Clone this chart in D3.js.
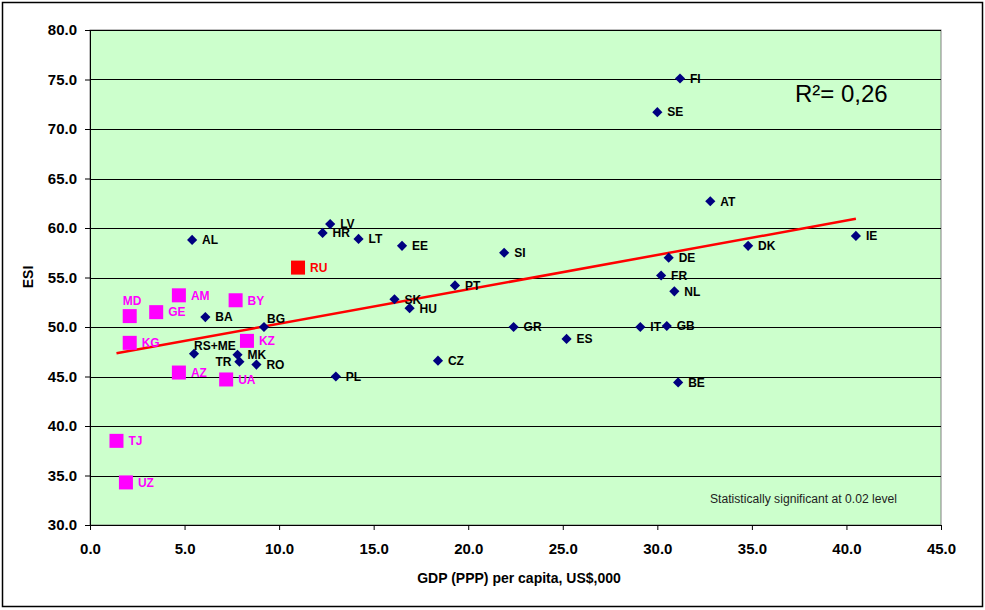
<!DOCTYPE html>
<html lang="en">
<head>
  <meta charset="UTF-8">
  <title>ESI vs GDP per capita</title>
  <script src="https://d3js.org/d3.v7.min.js"></script>
  <style>
    body {
      margin: 0;
      font-family: Arial, "Liberation Sans", sans-serif;
    }
    .tick text {
      font-size: 15px;
      font-weight: bold;
      fill: #000;
    }
    .lbl {
      font-size: 12px;
      font-weight: bold;
    }
  </style>
</head>
<body>
  <svg width="985" height="610"></svg>
  <script>
    // countries, GDP (PPP) per capita in US$,000, ESI score, group
    const countries = ["FI", "SE", "AT", "DK", "IE", "DE", "FR", "NL", "IT", "GB", "BE", "ES", "GR", "CZ", "PT",
      "SI", "EE", "LT", "LV", "HR", "SK", "HU", "PL", "AL", "BA", "BG", "RS+ME", "MK", "TR", "RO",
      "MD", "AM", "GE", "BY", "KG", "KZ", "AZ", "UA", "TJ", "UZ", "RU"];
    const gdp = [31.2, 30.0, 32.8, 34.8, 40.5, 30.6, 30.2, 30.9, 29.1, 30.5, 31.1, 25.2, 22.4, 18.4, 19.3,
      21.9, 16.5, 14.2, 12.7, 12.3, 16.1, 16.9, 13.0, 5.4, 6.1, 9.2, 5.5, 7.8, 7.9, 8.8,
      2.1, 4.7, 3.5, 7.7, 2.1, 8.3, 4.7, 7.2, 1.4, 1.9, 11.0];
    const esi = [75.1, 71.7, 62.7, 58.2, 59.2, 57.0, 55.2, 53.6, 50.0, 50.1, 44.4, 48.8, 50.0, 46.6, 54.2,
      57.5, 58.2, 58.9, 60.4, 59.5, 52.8, 51.9, 45.0, 58.8, 51.0, 50.0, 47.3, 47.2, 46.5, 46.2,
      51.1, 53.2, 51.5, 52.7, 48.4, 48.6, 45.4, 44.7, 38.5, 34.3, 56.0];
    const groups = ["eu", "eu", "eu", "eu", "eu", "eu", "eu", "eu", "eu", "eu", "eu", "eu", "eu", "eu", "eu",
      "eu", "eu", "eu", "eu", "eu", "eu", "eu", "eu", "eu", "eu", "eu", "eu", "eu", "eu", "eu",
      "cis", "cis", "cis", "cis", "cis", "cis", "cis", "cis", "cis", "cis", "ru"];
    const xTicks = [0, 5, 10, 15, 20, 25, 30, 35, 40, 45];
    const yTicks = [30, 35, 40, 45, 50, 55, 60, 65, 70, 75, 80];
    const r2Text = "R²= 0,26";
    const noteText = "Statistically significant at 0.02 level";

    const data = countries.map((c, i) => ({ name: c, x: gdp[i], y: esi[i], group: groups[i] }));

    const color = { eu: "#000080", cis: "#FF00FF", ru: "#FF0000" };

    // a few labels sit away from the default spot to the right
    const labelShift = {
      "MD": { dx: -7, dy: -15, anchor: "start" },
      "RS+ME": { dx: 0, dy: -8, anchor: "start" },
      "TR": { dx: -8, dy: 0, anchor: "end" },
      "BG": { dx: 3, dy: -8, anchor: "start" }
    };

    const svg = d3.select("svg");
    const margin = { top: 30, right: 44, bottom: 85, left: 90 };
    const width = +svg.attr("width") - margin.left - margin.right;
    const height = +svg.attr("height") - margin.top - margin.bottom;

    svg.append("rect")
      .attr("x", 2.5).attr("y", 2.5)
      .attr("width", 980).attr("height", 604)
      .attr("fill", "#fff")
      .attr("stroke", "#000")
      .attr("stroke-width", 1.5);

    const x = d3.scaleLinear().domain([0, 45]).range([0, width]);
    const y = d3.scaleLinear().domain([30, 80]).range([height, 0]);

    const g = svg.append("g")
      .attr("transform", `translate(${margin.left},${margin.top})`);

    g.append("rect")
      .attr("width", width)
      .attr("height", height)
      .attr("fill", "#CCFFCC")
      .attr("stroke", "#808080");

    g.append("g")
      .selectAll("line")
      .data(yTicks)
      .join("line")
      .attr("x1", 0)
      .attr("x2", width)
      .attr("y1", d => Math.round(y(d)) + 0.5)
      .attr("y2", d => Math.round(y(d)) + 0.5)
      .attr("stroke", "#000");

    const xAxis = g.append("g")
      .attr("transform", `translate(0,${height})`)
      .call(d3.axisBottom(x).tickValues(xTicks).tickFormat(d3.format(".1f"))
        .tickSize(5).tickSizeOuter(0).tickPadding(13));
    xAxis.select(".domain").attr("stroke", "#000");

    const yAxis = g.append("g")
      .call(d3.axisLeft(y).tickValues(yTicks).tickFormat(d3.format(".1f"))
        .tickSize(5).tickSizeOuter(0).tickPadding(8));
    yAxis.select(".domain").attr("stroke", "#000");

    // least squares trend line over the data range
    const mx = d3.mean(data, d => d.x);
    const my = d3.mean(data, d => d.y);
    const slope = d3.sum(data, d => (d.x - mx) * (d.y - my)) / d3.sum(data, d => (d.x - mx) ** 2);
    const icpt = my - slope * mx;
    const [x0, x1] = d3.extent(data, d => d.x);

    g.append("line")
      .attr("x1", x(x0)).attr("y1", y(icpt + slope * x0))
      .attr("x2", x(x1)).attr("y2", y(icpt + slope * x1))
      .attr("stroke", "#FF0000")
      .attr("stroke-width", 2.5);

    const eu = data.filter(d => d.group === "eu");
    const sq = data.filter(d => d.group !== "eu");

    g.selectAll(".sq")
      .data(sq)
      .join("rect")
      .attr("class", "sq")
      .attr("x", d => x(d.x) - 7)
      .attr("y", d => y(d.y) - 7)
      .attr("width", 14)
      .attr("height", 14)
      .attr("fill", d => color[d.group]);

    g.selectAll(".dia")
      .data(eu)
      .join("path")
      .attr("class", "dia")
      .attr("d", d3.symbol(d3.symbolDiamond2, 66))
      .attr("transform", d => `translate(${x(d.x)},${y(d.y)})`)
      .attr("fill", color.eu);

    g.selectAll(".lbl")
      .data(data)
      .join("text")
      .attr("class", "lbl")
      .attr("x", d => x(d.x) + (labelShift[d.name] ? labelShift[d.name].dx : (d.group === "eu" ? 10 : 12)))
      .attr("y", d => y(d.y) + (labelShift[d.name] ? labelShift[d.name].dy : 0))
      .attr("dy", "0.36em")
      .attr("text-anchor", d => labelShift[d.name] ? labelShift[d.name].anchor : "start")
      .attr("fill", d => d.group === "eu" ? "#000" : color[d.group])
      .text(d => d.name);

    g.append("text")
      .attr("x", 705)
      .attr("y", 72)
      .attr("font-size", 24)
      .text(r2Text);

    g.append("text")
      .attr("x", 620)
      .attr("y", 473)
      .attr("font-size", 12)
      .attr("fill", "#222")
      .attr("textLength", 187)
      .attr("lengthAdjust", "spacingAndGlyphs")
      .text(noteText);

    svg.append("text")
      .attr("transform", `translate(33,277) rotate(-90)`)
      .attr("text-anchor", "middle")
      .attr("font-size", 14)
      .attr("font-weight", "bold")
      .text("ESI");

    svg.append("text")
      .attr("x", 519)
      .attr("y", 583)
      .attr("text-anchor", "middle")
      .attr("font-size", 14)
      .attr("font-weight", "bold")
      .text("GDP (PPP) per capita, US$,000");
  </script>
</body>
</html>
